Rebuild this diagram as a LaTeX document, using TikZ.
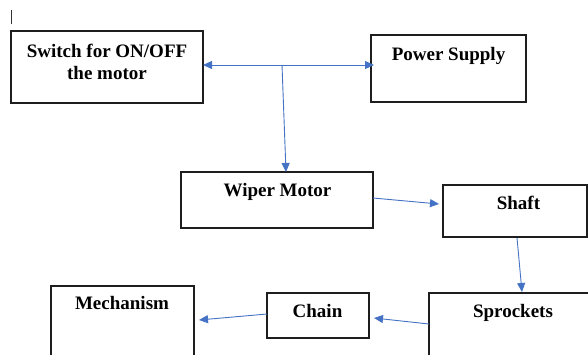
\documentclass[tikz,border=0pt]{standalone}
\usepackage{fontspec}
\setmainfont{Liberation Serif}
\usetikzlibrary{arrows.meta,calc}
\definecolor{arrowblue}{RGB}{68,114,196}
\definecolor{boxline}{RGB}{30,30,30}
\begin{document}
\begin{tikzpicture}[x=1pt,y=-1pt,
  box/.style={draw=boxline, line width=1.4pt, inner sep=0pt, outer sep=0pt},
  lbl/.style={font=\bfseries\fontsize{19}{22}\selectfont, anchor=base, inner sep=0pt},
  conn/.style={draw=arrowblue, line width=0.9pt, -{Triangle[length=9pt,width=8pt]}},
  dconn/.style={draw=arrowblue, line width=0.9pt, {Triangle[length=9pt,width=8pt]}-{Triangle[length=9pt,width=8pt]}}]
\useasboundingbox (0,0) rectangle (588,354);
\clip (0,0) rectangle (588,354);
% cursor mark
\coordinate (c1) at (11,10);
\coordinate (c2) at (11,24);
\draw[line width=0.8pt, black!80] (c1) -- (c2);
% boxes
\node[box, minimum width=192pt, minimum height=72pt] (sw) at (107,67) {};
\node[box, minimum width=155pt, minimum height=67pt] (ps) at (448.5,68.5) {};
\node[box, minimum width=192pt, minimum height=56pt] (wm) at (277,200) {};
\node[box, minimum width=144pt, minimum height=52pt] (sh) at (515,211) {};
\node[box, minimum width=170pt, minimum height=70pt] (sp) at (514,328) {};
\node[box, minimum width=102pt, minimum height=45pt] (ch) at (318,315.5) {};
\node[box, minimum width=143pt, minimum height=80pt] (me) at (122.5,326) {};
% texts
\node[lbl] (sw1) at (107,57) {Switch for ON/OFF};
\node[lbl] (sw2) at (107,79) {the motor};
\node[lbl] (pst) at (448.5,60) {Power Supply};
\node[lbl] (wmt) at (277.5,196) {Wiper Motor};
\node[lbl] (sht) at (518.5,209) {Shaft};
\node[lbl] (spt) at (513,317) {Sprockets};
\node[lbl] (cht) at (317.5,317) {Chain};
\node[lbl] (met) at (122,309) {Mechanism};
% connectors
\coordinate (j) at (282,65);
\draw[dconn] (sw.east |- j) -- ($(ps.west |- j)+(3,0)$);
\draw[conn] (j) -- ($(wm.north west)+(105,0)$);
\draw[conn] ($(wm.north east)+(0,26)$) -- ($(sh.north west)+(-4,19)$);
\draw[conn] ($(sh.south west)+(74,1)$) -- ($(sp.north west)+(93,-1)$);
\draw[conn] ($(sp.north west)+(0,31)$) -- ($(ch.north east)+(5,25)$);
\draw[conn] ($(ch.north west)+(0,21)$) -- ($(me.north east)+(5,34)$);
\end{tikzpicture}
\end{document}
